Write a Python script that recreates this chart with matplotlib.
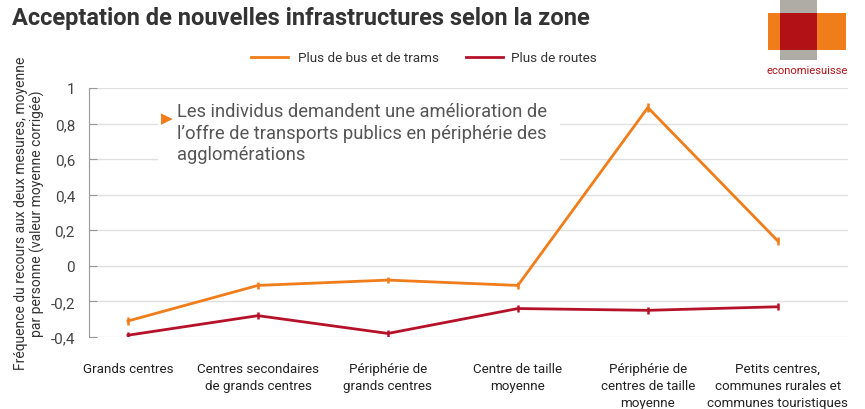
import matplotlib
matplotlib.use("Agg")
import matplotlib.pyplot as plt
from matplotlib.patches import Rectangle

categories = ["Grands centres", "Centres secondaires\nde grands centres", "Périphérie de\ngrands centres",
              "Centre de taille\nmoyenne", "Périphérie de\ncentres de taille\nmoyenne",
              "Petits centres,\ncommunes rurales et\ncommunes touristiques"]
bus_trams = [-0.31, -0.11, -0.08, -0.11, 0.89, 0.14]
bus_err = [0.02, 0.02, 0.018, 0.018, 0.025, 0.025]
routes = [-0.39, -0.28, -0.38, -0.24, -0.25, -0.23]
routes_err = [0.02, 0.02, 0.02, 0.018, 0.018, 0.02]
yticks = [-0.4, -0.2, 0, 0.2, 0.4, 0.6, 0.8, 1]
ytick_labels = ["-0,4", "-0,2", "0", "0,2", "0,4", "0,6", "0,8", "1"]

ORANGE = "#f07d1a"
RED = "#b5122a"
plt.rcParams['font.family'] = ['Roboto', 'DejaVu Sans']

W, H = 865, 410
fig = plt.figure(figsize=(W/100, H/100), dpi=100)
ax = fig.add_axes([89/W, 1-338/H, (848-89)/W, (338-89)/H])

x = list(range(len(categories)))
ax.errorbar(x, bus_trams, yerr=bus_err, color=ORANGE, lw=2, elinewidth=1.8, capsize=0, zorder=3)
ax.errorbar(x, routes, yerr=routes_err, color=RED, lw=2, elinewidth=1.8, capsize=0, zorder=3)

ax.set_xlim(-0.3, 5.54)
ax.set_ylim(-0.4, 1.0)
ax.set_yticks(yticks)
ax.set_yticklabels(ytick_labels, fontsize=11, color="#444")
ax.set_xticks(x)
ax.set_xticklabels(categories, fontsize=9.6, color="#222", linespacing=1.4, va="top")
ax.tick_params(axis="x", length=0, pad=18)
ax.tick_params(axis="y", length=6, direction="in", color="#999", pad=10)
ax.grid(axis="y", color="#e0e0e0", lw=1)
ax.set_axisbelow(True)
for s in ["top", "right", "bottom"]:
    ax.spines[s].set_visible(False)
ax.spines["left"].set_color("#999")

ax.set_ylabel("Fréquence du recours aux deux mesures, moyenne\npar personne (valeur moyenne corrigée)",
              fontsize=10, color="#333", labelpad=4, linespacing=1.15)

# annotation box
fig.patches.append(Rectangle((158/W, 1-177/H), 402/W, 76/H, transform=fig.transFigure,
                             facecolor="white", edgecolor="none", zorder=2))
fig.text(161/W, 1-119/H, "▶", color=ORANGE, fontsize=11, va="center", ha="left",
         family=['DejaVu Sans'], zorder=4)
fig.text(177/W, 1-103/H, "Les individus demandent une amélioration de\nl’offre de transports publics en périphérie des\nagglomérations",
         fontsize=13.2, color="#555", va="top", ha="left", linespacing=1.25, zorder=4)

# title
fig.text(12/W, 1-19/H, "Acceptation de nouvelles infrastructures selon la zone", fontsize=17,
         fontweight="bold", color="#333", va="center", ha="left")

# legend
fig.add_artist(plt.Line2D([251/W, 288/W], [1-58/H, 1-58/H], color=ORANGE, lw=2))
fig.text(298/W, 1-58/H, "Plus de bus et de trams", fontsize=9.7, color="#333", va="center")
fig.add_artist(plt.Line2D([466/W, 503/W], [1-58/H, 1-58/H], color=RED, lw=2))
fig.text(511/W, 1-58/H, "Plus de routes", fontsize=9.7, color="#333", va="center")

# logo
fig.patches.append(Rectangle((768/W, 1-51/H), 78/W, 37/H, transform=fig.transFigure,
                             facecolor="#ef7d1a", edgecolor="none"))
fig.patches.append(Rectangle((780/W, 1-61/H), 37/W, 61/H, transform=fig.transFigure,
                             facecolor="#aeaca4", edgecolor="none"))
fig.patches.append(Rectangle((780/W, 1-51/H), 37/W, 37/H, transform=fig.transFigure,
                             facecolor="#b21116", edgecolor="none"))
fig.text(807/W, 1-71/H, "economiesuisse", fontsize=8.1, color="#b21116", ha="center", va="center")

fig.savefig("out.png", dpi=100, facecolor="white")
